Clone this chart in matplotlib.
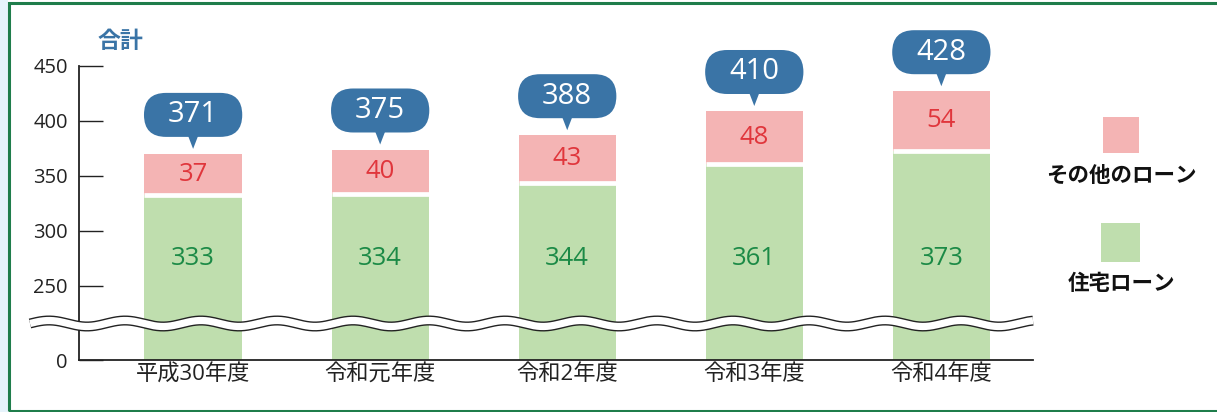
import numpy as np
import matplotlib
matplotlib.use("Agg")
import matplotlib.pyplot as plt
from matplotlib.patches import FancyBboxPatch, Polygon, Rectangle
from matplotlib.transforms import IdentityTransform
from matplotlib.lines import Line2D

plt.rcParams['font.family'] = ['Open Sans', 'Noto Sans CJK JP', 'DejaVu Sans']

categories = ['平成30年度', '令和元年度', '令和2年度', '令和3年度', '令和4年度']
housing = [333, 334, 344, 361, 373]
other = [37, 40, 43, 48, 54]
totals = [371, 375, 388, 410, 428]
yticks = [0, 250, 300, 350, 400, 450]
legend_labels = ['その他のローン', '住宅ローン']
title_text = '合計'

C_GREEN = '#bfdeae'
C_PINK = '#f4b4b4'
C_GTXT = '#1b8a46'
C_RTXT = '#e0363c'
C_BLUE = '#3a74a6'
C_BORDER = '#1f7d4b'
CJK = ['Noto Sans CJK JP', 'DejaVu Sans']

W, H = 1217, 412
fig = plt.figure(figsize=(W / 100, H / 100), dpi=100)
fig.patch.set_facecolor('white')

# background strip and border
fig.add_artist(Rectangle((0, 0), 7.5 / W, 1, transform=fig.transFigure,
                         facecolor='#e6f3fb', edgecolor='none', zorder=-10))
fig.add_artist(Rectangle((9 / W, 1.5 / H), 1.2, 1 - 4 / H, transform=fig.transFigure,
                         facecolor='none', edgecolor=C_BORDER, linewidth=2.2, zorder=-5))

ax = fig.add_axes([79 / W, 1 - 360 / H, (1033 - 79) / W, (360 - 66) / H])

B, K = 210.0, 0.13


def fwd(v):
    v = np.asarray(v, dtype=float)
    return np.where(v >= B, v, B - (B - v) * K)


def inv(u):
    u = np.asarray(u, dtype=float)
    return np.where(u >= B, u, B - (B - u) / K)


ax.set_yscale('function', functions=(fwd, inv))
x = np.arange(len(categories))
bw = 0.52
ax.bar(x, housing, width=bw, color=C_GREEN, edgecolor='none', zorder=2)
ax.bar(x, other, bottom=housing, width=bw, color=C_PINK, edgecolor='none', zorder=2)
ax.hlines(housing, x - bw / 2, x + bw / 2, colors='white', linewidth=3.4, zorder=3)

ax.set_ylim(0, 450)
ax.set_xlim(-0.61, 4.49)
ax.set_yticks(yticks)
ax.set_yticklabels([str(t) for t in yticks], fontsize=14.5, color='#222222')
ax.tick_params(axis='y', direction='in', length=17, width=1.0, pad=8, color='#222222')
ax.set_xticks(x)
ax.set_xticklabels(categories, fontsize=16, color='#222222')
ax.tick_params(axis='x', length=0, pad=3)
for s in ['top', 'right']:
    ax.spines[s].set_visible(False)
for s in ['left', 'bottom']:
    ax.spines[s].set_linewidth(1.3)
    ax.spines[s].set_color('#222222')
ax.patch.set_alpha(0)

for i in range(len(categories)):
    ax.text(x[i], housing[i] + other[i] / 2, str(other[i]), ha='center', va='center',
            fontsize=18.5, color=C_RTXT, zorder=4)
    ax.text(x[i], 275, str(housing[i]), ha='center', va='center',
            fontsize=18.5, color=C_GTXT, zorder=4)

# callouts (pixel geometry built from data positions)
bw_px = ax.transData.transform((bw, 0))[0] - ax.transData.transform((0, 0))[0]
for i in range(len(categories)):
    px, py = ax.transData.transform((x[i], totals[i]))
    tip = py + 4
    base = tip + 12
    bh = 44
    bwid = bw_px + 1
    fig.add_artist(FancyBboxPatch((px - bwid / 2, base), bwid, bh,
                                  boxstyle='round,pad=0,rounding_size=%f' % (bh / 2),
                                  transform=IdentityTransform(), facecolor=C_BLUE,
                                  edgecolor='none', zorder=6))
    fig.add_artist(Polygon([(px - 5, base + 1), (px + 5, base + 1), (px, tip)],
                           closed=True, transform=IdentityTransform(),
                           facecolor=C_BLUE, edgecolor='none', zorder=6))
    fig.text(px / W, (base + bh / 2) / H, str(totals[i]), ha='center', va='center',
             fontsize=21, color='white', zorder=7)

# wavy break
xs = np.linspace(30, 1033, 600)
ys = (H - 323.5) + 3.0 * np.sin((xs - 30) / 76.0 * 2 * np.pi)
fig.add_artist(Line2D(xs / W, ys / H, transform=fig.transFigure, color='#222222',
                      linewidth=7.2, solid_capstyle='butt', zorder=8))
fig.add_artist(Line2D(xs / W, ys / H, transform=fig.transFigure, color='white',
                      linewidth=5.2, solid_capstyle='butt', zorder=9))

# title
fig.text(98 / W, 1 - 41 / H, title_text, ha='left', va='center', fontsize=16.5,
         color=C_BLUE, fontweight='bold', family=CJK)

# legend
fig.add_artist(Rectangle((1103 / W, 1 - 153 / H), 36 / W, 36 / H, transform=fig.transFigure,
                         facecolor=C_PINK, edgecolor='none'))
fig.text(1121 / W, 1 - 175 / H, legend_labels[0], ha='center', va='center', fontsize=15.5,
         fontweight='bold', color='#111111', family=CJK)
fig.add_artist(Rectangle((1101 / W, 1 - 262 / H), 39 / W, 39 / H, transform=fig.transFigure,
                         facecolor=C_GREEN, edgecolor='none'))
fig.text(1121 / W, 1 - 284 / H, legend_labels[1], ha='center', va='center', fontsize=15.5,
         fontweight='bold', color='#111111', family=CJK)

fig.savefig('out.png', dpi=100)
